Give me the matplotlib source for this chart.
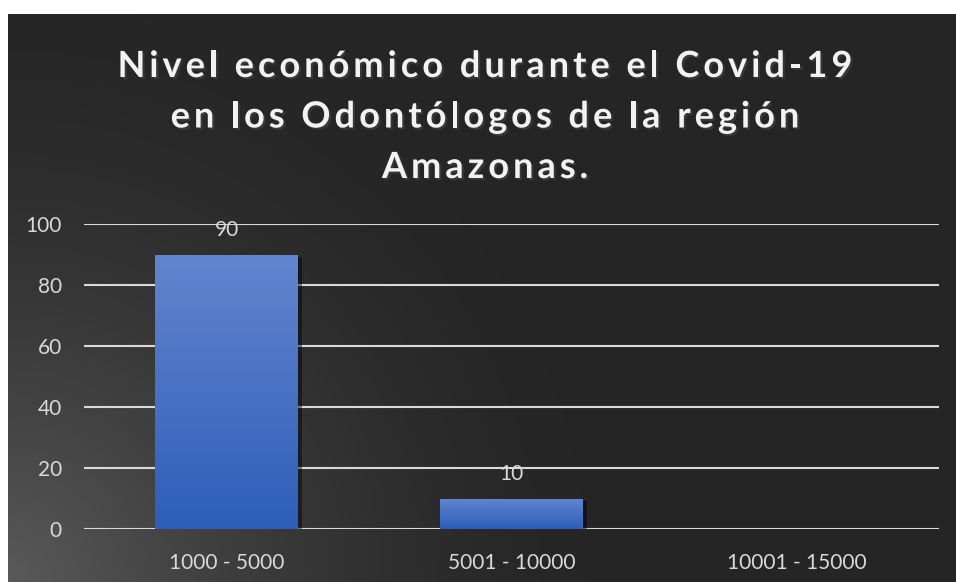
import numpy as np
import matplotlib
matplotlib.use("Agg")
import matplotlib.pyplot as plt
import matplotlib.patheffects as pe

# data
categories = ["1000 - 5000", "5001 - 10000", "10001 - 15000"]
values = [90, 10, np.nan]
yticks = [0, 20, 40, 60, 80, 100]
title_lines = ["Nivel económico durante el Covid-19",
               "en los Odontólogos de la región",
               "Amazonas."]

W, H = 956, 582
fig = plt.figure(figsize=(W / 100, H / 100), dpi=100, facecolor="white")

# dark panel with a soft light spot in the lower left corner
bg = fig.add_axes([8 / W, 0, (W - 8) / W, (H - 14) / H])
bg.set_axis_off()
yy, xx = np.mgrid[0:H - 14, 0:W - 8]
r = np.hypot(xx, (H - 14) - yy)
k = np.clip(1 - r / 580.0, 0, 1) ** 1.6
shade = (38 + 52 * k) / 255.0
img = np.dstack([shade, shade, shade])
bg.imshow(img, aspect="auto", extent=[0, 1, 0, 1], origin="upper")
bg.set_xlim(0, 1)
bg.set_ylim(0, 1)

ax = fig.add_axes([84 / W, 53 / H, (939 - 84) / W, (529 - 224) / H])
ax.patch.set_alpha(0)
for s in ax.spines.values():
    s.set_visible(False)

x = np.arange(len(categories))
ax.set_xlim(-0.5, len(categories) - 0.5)
ax.set_ylim(0, 100)
ax.set_yticks(yticks)
ax.yaxis.grid(True, color="#d9d9d9", lw=1.5)
ax.set_axisbelow(True)

bars = ax.bar(x, np.nan_to_num(values), width=0.5, color="#4472c4", zorder=2,
              path_effects=[pe.SimplePatchShadow(offset=(3, -2), alpha=0.45,
                                                 shadow_rgbFace="black"),
                            pe.Normal()])

# vertical gradient inside each bar
grad = np.linspace(0, 1, 100).reshape(-1, 1)
top = np.array([0x62, 0x85, 0xce]) / 255.0
bot = np.array([0x2e, 0x5e, 0xb9]) / 255.0
gimg = top[None, None, :] * (1 - grad[:, :, None]) + bot[None, None, :] * grad[:, :, None]
for b, v in zip(bars, values):
    if np.isnan(v) or v == 0:
        continue
    im = ax.imshow(gimg, aspect="auto", zorder=3,
                   extent=[b.get_x(), b.get_x() + b.get_width(), 0, b.get_height()])
    im.set_clip_path(b)
    ax.annotate(f"{v:g}", (b.get_x() + b.get_width() / 2, b.get_height()),
                xytext=(0, 17.5), textcoords="offset points", ha="center",
                va="center", color="#d9d9d9", fontsize=15, family="Lato", zorder=4)

ax.set_xticks(x)
ax.set_xticklabels(categories)
ax.tick_params(length=0, colors="#d9d9d9", labelsize=15)
ax.tick_params(axis="y", pad=16)
ax.tick_params(axis="x", pad=17)
for lab in ax.get_xticklabels() + ax.get_yticklabels():
    lab.set_family("Lato")

# title with letter spacing: place each character by hand
renderer = fig.canvas.get_renderer()
tracking = 4.0  # extra px between letters
title_kw = dict(color="#f2f2f2", fontsize=26, fontweight="bold", family="Lato",
                va="baseline", ha="left")
for i, line in enumerate(title_lines):
    widths = []
    for ch in line:
        probe = fig.text(0, 0, "x" + ch + "x", **title_kw)
        probe2 = fig.text(0, 0, "xx", **title_kw)
        w = (probe.get_window_extent(renderer).width
             - probe2.get_window_extent(renderer).width)
        probe.remove()
        probe2.remove()
        widths.append(w)
    total = sum(widths) + tracking * (len(line) - 1)
    xpos = 485 - total / 2
    ybase = 1 - (77 + 50.5 * i) / H
    for ch, w in zip(line, widths):
        if ch != " ":
            t = fig.text(xpos / W, ybase, ch, **title_kw)
            t.set_path_effects([pe.SimplePatchShadow(offset=(1.5, -1.5), alpha=0.5),
                                pe.Normal()])
        xpos += w + tracking

fig.savefig("out.png", dpi=100, facecolor=fig.get_facecolor())
